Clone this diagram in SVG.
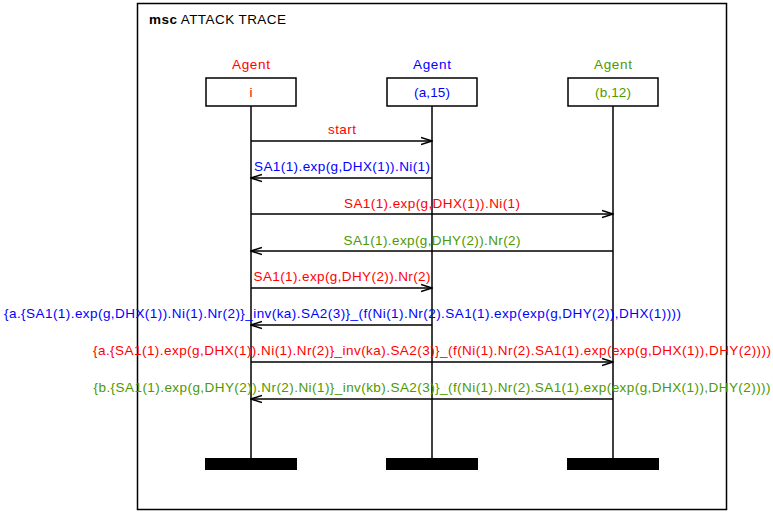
<svg xmlns="http://www.w3.org/2000/svg" width="773" height="513" viewBox="0 0 773 513">
<style>
text{font-family:"Liberation Sans",Arial,sans-serif;font-size:13.5px}
.c{text-anchor:middle}
.r{fill:#ff0000}.b{fill:#0000ff}.g{fill:#4d9900}
.box{fill:#fff;stroke:#000;stroke-width:1.5}
.life{stroke:#000;stroke-width:1.5}
.bar{fill:#000}
.msg{stroke:#000;stroke-width:1.5;fill:none}
</style>
<defs>
<marker id="ah" viewBox="0 0 12 10" refX="11" refY="5" markerWidth="12" markerHeight="10" markerUnits="userSpaceOnUse" orient="auto">
<path d="M0,1.5 L11,5 L0,8.5" fill="none" stroke="#000" stroke-width="1.5"/>
</marker>
</defs>
<rect x="0" y="0" width="773" height="513" fill="#fff"/>
<rect x="137.5" y="3.5" width="589" height="506" fill="none" stroke="#000" stroke-width="1.5"/>
<text x="149" y="24" textLength="137" lengthAdjust="spacing"><tspan font-weight="bold">msc</tspan> ATTACK TRACE</text>
<g id="agent-i">
<text class="c r" x="251" y="69" textLength="38">Agent</text>
<line class="life" x1="251" y1="106" x2="251" y2="458"/>
<rect class="box" x="206" y="78" width="90" height="28"/>
<text class="c r" x="251" y="97">i</text>
<rect class="bar" x="205" y="458" width="92" height="12"/>
</g>
<g id="agent-a">
<text class="c b" x="432" y="69" textLength="38">Agent</text>
<line class="life" x1="432" y1="106" x2="432" y2="458"/>
<rect class="box" x="387" y="78" width="90" height="28"/>
<text class="c b" x="432" y="97" textLength="36">(a,15)</text>
<rect class="bar" x="386" y="458" width="92" height="12"/>
</g>
<g id="agent-b">
<text class="c g" x="613" y="69" textLength="38">Agent</text>
<line class="life" x1="613" y1="106" x2="613" y2="458"/>
<rect class="box" x="568" y="78" width="90" height="28"/>
<text class="c g" x="613" y="97" textLength="36">(b,12)</text>
<rect class="bar" x="567" y="458" width="92" height="12"/>
</g>
<g id="connectors">
<line class="msg" x1="251" y1="141" x2="432" y2="141" marker-end="url(#ah)"/>
<line class="msg" x1="432" y1="178" x2="251" y2="178" marker-end="url(#ah)"/>
<line class="msg" x1="251" y1="214" x2="613" y2="214" marker-end="url(#ah)"/>
<line class="msg" x1="613" y1="251" x2="251" y2="251" marker-end="url(#ah)"/>
<line class="msg" x1="251" y1="288" x2="432" y2="288" marker-end="url(#ah)"/>
<line class="msg" x1="432" y1="325" x2="251" y2="325" marker-end="url(#ah)"/>
<line class="msg" x1="251" y1="362" x2="613" y2="362" marker-end="url(#ah)"/>
<line class="msg" x1="613" y1="399" x2="251" y2="399" marker-end="url(#ah)"/>
<text class="c r" x="342" y="134" textLength="28">start</text>
<text class="c b" x="342" y="171" textLength="176">SA1(1).exp(g,DHX(1)).Ni(1)</text>
<text class="c r" x="432" y="208" textLength="176">SA1(1).exp(g,DHX(1)).Ni(1)</text>
<text class="c g" x="432" y="245" textLength="177">SA1(1).exp(g,DHY(2)).Nr(2)</text>
<text class="c r" x="342" y="281" textLength="177">SA1(1).exp(g,DHY(2)).Nr(2)</text>
<text class="c b" x="342.5" y="318" textLength="677">{a.{SA1(1).exp(g,DHX(1)).Ni(1).Nr(2)}_inv(ka).SA2(3)}_(f(Ni(1).Nr(2).SA1(1).exp(exp(g,DHY(2)),DHX(1))))</text>
<text class="c r" x="432" y="355" textLength="678">{a.{SA1(1).exp(g,DHX(1)).Ni(1).Nr(2)}_inv(ka).SA2(3)}_(f(Ni(1).Nr(2).SA1(1).exp(exp(g,DHX(1)),DHY(2))))</text>
<text class="c g" x="432" y="392" textLength="677">{b.{SA1(1).exp(g,DHY(2)).Nr(2).Ni(1)}_inv(kb).SA2(3)}_(f(Ni(1).Nr(2).SA1(1).exp(exp(g,DHX(1)),DHY(2))))</text>
</g>
</svg>
